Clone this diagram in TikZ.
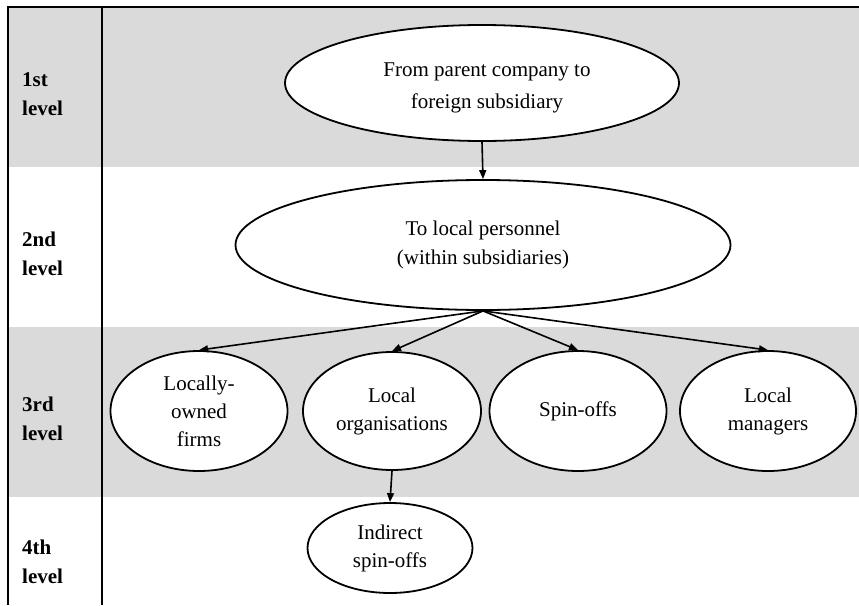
\documentclass[tikz,border=0pt]{standalone}
\usepackage{fontspec}
\setmainfont{Liberation Serif}
\usetikzlibrary{shapes.geometric,arrows.meta}
\definecolor{band}{RGB}{218,218,218}
\begin{document}
\begin{tikzpicture}[x=1pt,y=-1pt,
  oval/.style={ellipse,draw,line width=1.8pt,fill=white,inner sep=0pt,align=center,font=\fontsize{21}{28}\selectfont},
  lvl/.style={anchor=north west,inner sep=0pt,align=left,font=\fontsize{21}{29}\selectfont\bfseries},
  arr/.style={-{Triangle[length=9pt,width=7pt]},line width=1.6pt},
  rule/.style={line width=1.9pt}]
\useasboundingbox (0,0) rectangle (859,605);
\fill[band] (8,8) rectangle (859,167);
\fill[band] (8,327) rectangle (859,497);
\draw[rule] (8,605) -- (8,7) -- (859,7);
\draw[rule] (102,7) -- (102,605);

\node[lvl] (l1) at (22,72) {1st\\level};
\node[lvl] (l2) at (22,232) {2nd\\level};
\node[lvl] (l3) at (22,397) {3rd\\level};
\node[lvl] (l4) at (22,540) {4th\\level};

\node[oval,minimum width=394pt,minimum height=116pt] (e1) at (482,83) {};
\node[inner sep=0pt,align=center,font=\fontsize{21}{32}\selectfont] (t1) at (487,88) {From parent company to\\foreign subsidiary};
\node[oval,minimum width=495pt,minimum height=130pt,font=\fontsize{21}{29}\selectfont] (e2) at (483,245) {To local personnel\\(within subsidiaries)};
\node[oval,minimum width=177pt,minimum height=120pt] (e3a) at (199,411) {Locally-\\owned\\firms};
\node[oval,minimum width=178pt,minimum height=118pt] (e3b) at (392,411) {Local\\organisations};
\node[oval,minimum width=177pt,minimum height=120pt] (e3c) at (578,411) {Spin-offs};
\node[oval,minimum width=176pt,minimum height=120pt] (e3d) at (768,411) {Local\\managers};
\node[oval,minimum width=165pt,minimum height=90pt] (e4) at (390,548) {Indirect\\spin-offs};

\draw[arr] (e1.south) -- (e2.north);
\draw[arr] (e2.south) -- (e3a.north);
\draw[arr] (e2.south) -- (e3b.north);
\draw[arr] (e2.south) -- (e3c.north);
\draw[arr] (e2.south) -- (e3d.north);
\draw[arr] (e3b.south) -- (e4.north);
\end{tikzpicture}
\end{document}
